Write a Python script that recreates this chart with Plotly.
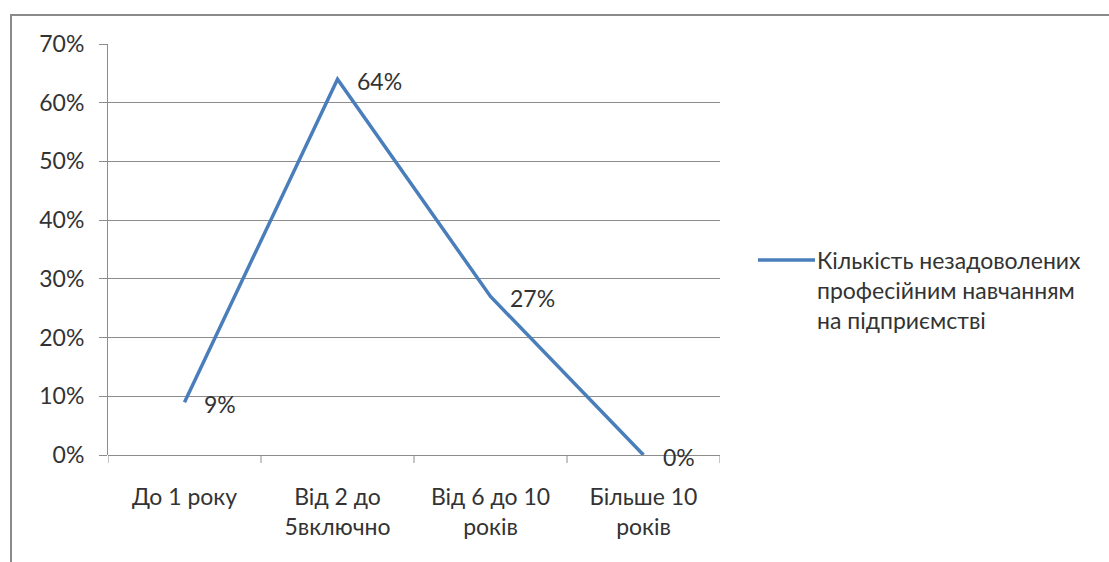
import plotly.graph_objects as go

# Стаж роботи та частка незадоволених професійним навчанням
categories = ["До 1 року", "Від 2 до<br>5включно", "Від 6 до 10<br>років", "Більше 10<br>років"]
values = [0.09, 0.64, 0.27, 0.00]
value_labels = ["9%", "64%", "27%", "0%"]
series_name = "Кількість незадоволених<br>професійним навчанням<br>на підприємстві"

FONT = "Lato"
FS = 23
TEXT_COLOR = "#333333"
GRID_COLOR = "#8c8c8c"
LINE_COLOR = "#4a7ebb"

W, H = 1109, 562
L, R, T, B = 108, 389, 44, 107
pw, ph = W - L - R, H - T - B

fig = go.Figure()
fig.add_trace(go.Scatter(
    x=list(range(len(categories))),
    y=values,
    mode="lines",
    name=series_name,
    line=dict(color=LINE_COLOR, width=3.5),
    showlegend=False,
))

# Підписи значень праворуч від точок
for i, (v, lab) in enumerate(zip(values, value_labels)):
    fig.add_annotation(
        x=i, y=v, text=lab, showarrow=False,
        xanchor="left", yanchor="middle", xshift=17, yshift=-2,
        font=dict(family=FONT, size=FS, color=TEXT_COLOR),
    )

# Легенда: зразок лінії та назва ряду
def px_x(x):
    return (x - L) / pw


def px_y(y):
    return (H - B - y) / ph


fig.add_shape(
    type="line", xref="paper", yref="paper",
    x0=px_x(758), x1=px_x(815), y0=px_y(260), y1=px_y(260),
    line=dict(color=LINE_COLOR, width=3.5),
)
fig.add_annotation(
    xref="paper", yref="paper", x=px_x(815), y=px_y(244),
    text=series_name, showarrow=False, align="left",
    xanchor="left", yanchor="top",
    font=dict(family=FONT, size=FS, color=TEXT_COLOR),
)

# Рамка області діаграми
fig.add_shape(
    type="rect", xref="paper", yref="paper",
    x0=px_x(11), x1=px_x(W + 20),
    y0=px_y(H + 20), y1=px_y(15),
    line=dict(color="#8a8a8a", width=2), layer="below",
)

fig.update_layout(
    width=W, height=H,
    margin=dict(l=L, r=R, t=T, b=B),
    paper_bgcolor="white", plot_bgcolor="white",
    font=dict(family=FONT, size=FS, color=TEXT_COLOR),
    showlegend=False,
    xaxis=dict(
        tickmode="array",
        tickvals=list(range(len(categories))),
        ticktext=categories,
        range=[-0.5, len(categories) - 0.5],
        showgrid=False, zeroline=False,
        ticks="", showline=False,
        ticklabelstandoff=26,
        tickfont=dict(family=FONT, size=FS, color=TEXT_COLOR),
    ),
    yaxis=dict(
        range=[0, 0.7], dtick=0.1, tickformat=".0%",
        showgrid=True, gridcolor=GRID_COLOR, gridwidth=1,
        zeroline=True, zerolinecolor=GRID_COLOR, zerolinewidth=1,
        showline=True, linecolor=GRID_COLOR, linewidth=1,
        ticks="outside", ticklen=8, tickcolor=GRID_COLOR,
        ticklabelstandoff=10,
        tickfont=dict(family=FONT, size=FS, color=TEXT_COLOR),
    ),
)

# Роздільники категорій на осі X
for k in range(len(categories) + 1):
    fig.add_shape(
        type="line", xref="x", yref="paper",
        x0=k - 0.5, x1=k - 0.5, y0=0, y1=-8 / ph,
        line=dict(color=GRID_COLOR, width=1),
    )

fig.write_html("out.html")
